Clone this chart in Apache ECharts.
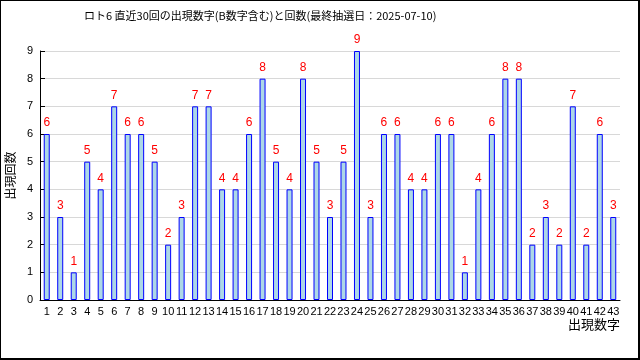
<!DOCTYPE html>
<html><head><meta charset="utf-8">
<script src="https://cdn.jsdelivr.net/npm/echarts@6/dist/echarts.min.js"></script>
<style>
html,body{margin:0;padding:0;background:#fff;}
#wrap{position:relative;width:640px;height:360px;}
#c{position:absolute;left:0;top:0;width:640px;height:360px;}
#frame{position:absolute;left:0;top:0;width:640px;height:360px;box-sizing:border-box;border-top:1px solid #000;border-left:1px solid #000;border-right:2px solid #000;border-bottom:2px solid #000;pointer-events:none;}
</style></head>
<body><div id="wrap"><div id="c"></div><div id="frame"></div></div>
<script>
const titleText = 'ロト6 直近30回の出現数字(B数字含む)と回数(最終抽選日：2025-07-10)';
const categories = ['1','2','3','4','5','6','7','8','9','10','11','12','13','14','15','16','17','18','19','20','21','22','23','24','25','26','27','28','29','30','31','32','33','34','35','36','37','38','39','40','41','42','43'];
const counts = [6,3,1,5,4,7,6,6,5,2,3,7,7,4,4,6,8,5,4,8,5,3,5,9,3,6,6,4,4,6,6,1,4,6,8,8,2,3,2,7,2,6,3];
const yTicks = [0,1,2,3,4,5,6,7,8,9];

const chart = echarts.init(document.getElementById('c'));
chart.setOption({
  animation: false,
  backgroundColor: '#fff',
  title: {
    text: titleText, left: 79, top: 5,
    textStyle: {fontSize: 11, fontWeight: 'normal', color: '#000', fontFamily: 'Noto Sans CJK JP'}
  },
  grid: {left: 40, right: 20, top: 51, bottom: 60, outerBoundsMode: 'none', containLabel: false},
  xAxis: {
    type: 'category', data: categories,
    name: '出現数字', nameLocation: 'end', nameGap: 0,
    nameTextStyle: {align: 'right', verticalAlign: 'top', padding: [18, 0, 0, 0], fontSize: 13, color: '#000', fontFamily: 'Noto Sans CJK JP'},
    axisLine: {lineStyle: {color: '#000'}},
    axisTick: {inside: true, length: 5, lineStyle: {color: '#000'}},
    axisLabel: {interval: 0, fontSize: 11, color: '#000', margin: 6, fontFamily: 'Liberation Sans'},
    splitLine: {show: false}
  },
  yAxis: {
    type: 'value', min: yTicks[0], max: yTicks[yTicks.length - 1], interval: 1,
    name: '出現回数', nameLocation: 'middle', nameGap: 24,
    nameTextStyle: {fontSize: 12, color: '#000', fontFamily: 'Noto Sans CJK JP'},
    axisLine: {show: true, lineStyle: {color: '#000'}},
    axisTick: {show: true, inside: true, length: 5, lineStyle: {color: '#000'}},
    axisLabel: {fontSize: 11, color: '#000', margin: 7, fontFamily: 'Liberation Sans'},
    splitLine: {lineStyle: {color: '#d8d8d8'}}
  },
  series: [{
    type: 'bar', data: counts, barWidth: 6,
    itemStyle: {color: '#add8e6', borderColor: '#0000ff', borderWidth: 1},
    label: {show: true, position: 'top', distance: 5, color: '#ff0000', fontSize: 12, fontFamily: 'Liberation Sans'}
  }]
});
</script></body></html>
